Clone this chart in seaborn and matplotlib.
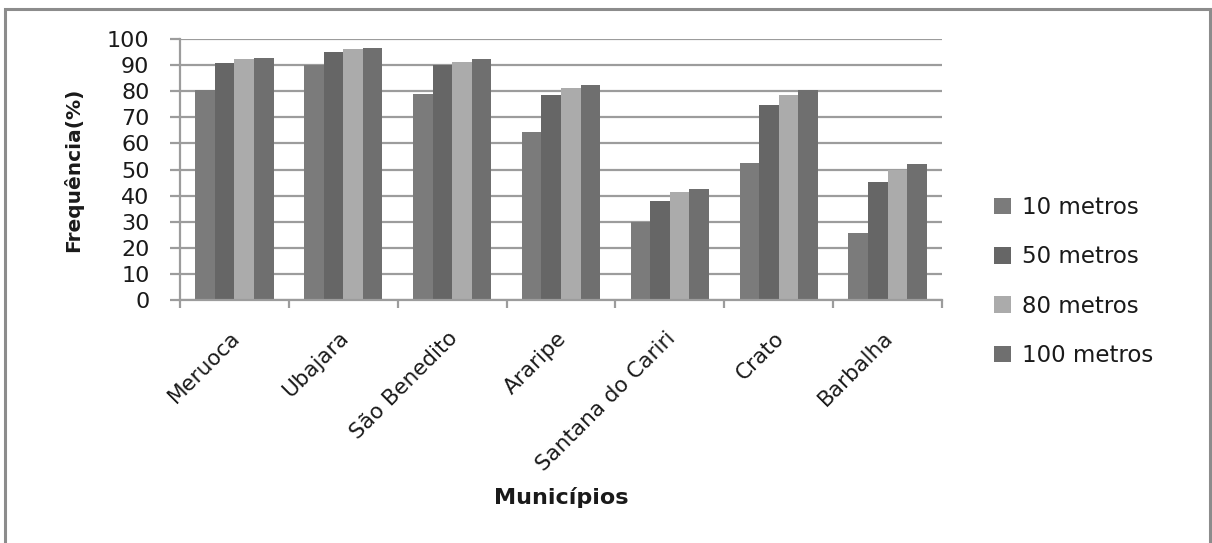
import matplotlib
matplotlib.use("Agg")
import matplotlib.pyplot as plt
import matplotlib.transforms as mtransforms
from matplotlib.patches import Rectangle
import seaborn as sns
import pandas as pd
import numpy as np

municipios = ["Meruoca", "Ubajara", "São Benedito", "Araripe",
              "Santana do Cariri", "Crato", "Barbalha"]
series_names = ["10 metros", "50 metros", "80 metros", "100 metros"]
v10 = [80.4, 90.2, 79.0, 64.2, 30.0, 52.6, 25.5]
v50 = [90.8, 95.1, 90.0, 78.4, 37.8, 74.6, 45.1]
v80 = [92.2, 96.2, 91.3, 81.3, 41.3, 78.4, 49.9]
v100 = [92.7, 96.7, 92.2, 82.5, 42.7, 80.3, 52.0]
yticks = list(range(0, 101, 10))
colors = ["#7b7b7b", "#666666", "#ababab", "#6f6f6f"]

rows = []
for name, vals in zip(series_names, [v10, v50, v80, v100]):
    for m, v in zip(municipios, vals):
        rows.append({"Município": m, "Frequência": v, "Distância": name})
df = pd.DataFrame(rows)

sns.set_theme(style="white")
plt.rcParams["font.family"] = ["DejaVu Sans"]
text_color = "#1a1a1a"
grid_color = "#9c9c9c"

fig = plt.figure(figsize=(12.12, 5.43), dpi=100)
W, H = 1212, 543
ax = fig.add_axes([180 / W, 1 - 300 / H, (942 - 180) / W, (300 - 39) / H])

sns.barplot(data=df, x="Município", y="Frequência", hue="Distância",
            hue_order=series_names, order=municipios, palette=colors,
            saturation=1, width=0.72, gap=0, linewidth=0, ax=ax)

ax.set_ylim(0, 100)
ax.set_xlim(-0.5, len(municipios) - 0.5)
ax.set_yticks(yticks)
ax.set_yticklabels([str(t) for t in yticks], fontsize=16, color=text_color)
ax.yaxis.grid(True, color=grid_color, linewidth=1.6)
ax.set_axisbelow(True)
for s in ["top", "right"]:
    ax.spines[s].set_visible(False)
for s in ["left", "bottom"]:
    ax.spines[s].set_color(grid_color)
    ax.spines[s].set_linewidth(1.6)
ax.tick_params(axis="y", which="major", length=7, width=1.6, color=grid_color,
               pad=15, left=True, direction="out")

# x ticks: labels at centers, tick marks at boundaries
ax.set_xticks(range(len(municipios)))
ax.set_xticklabels(municipios, fontsize=15.5, color=text_color,
                   rotation=45, ha="right", va="top", rotation_mode="anchor")
ax.set_xticks(np.arange(-0.5, len(municipios), 1.0), minor=True)
ax.tick_params(axis="x", which="major", length=0, pad=20)
ax.tick_params(axis="x", which="minor", length=6, width=1.6, color=grid_color,
               bottom=True, direction="out")
offset = mtransforms.ScaledTranslation(-5 / 100, 0, fig.dpi_scale_trans)
for lbl in ax.get_xticklabels():
    lbl.set_transform(lbl.get_transform() + offset)

ax.set_xlabel("Municípios", fontsize=16, fontweight="bold", color=text_color)
ax.xaxis.set_label_coords(0.5, (300 - 498) / 261)
ax.xaxis.label.set_va("center")
ax.set_ylabel("Frequência(%)", fontsize=14.5, fontweight="bold", color=text_color)
ax.yaxis.set_label_coords((73 - 180) / 762, 0.5)
ax.yaxis.label.set_va("center")

ax.legend(title=None, loc="upper left",
          bbox_to_anchor=(994 / W, 1 - 196 / H), bbox_transform=fig.transFigure,
          frameon=False, fontsize=16.5, handlelength=0.75, handleheight=0.75,
          handletextpad=0.45, labelspacing=1.15, borderpad=0, borderaxespad=0)
for t in ax.get_legend().get_texts():
    t.set_color(text_color)

fig.patches.append(Rectangle((5 / W, -0.05), (1210 - 5) / W, 1 - 9 / H + 0.05,
                             transform=fig.transFigure, fill=False,
                             edgecolor="#8c8c8c", linewidth=2.2, zorder=0))

fig.savefig("out.png", dpi=100)
